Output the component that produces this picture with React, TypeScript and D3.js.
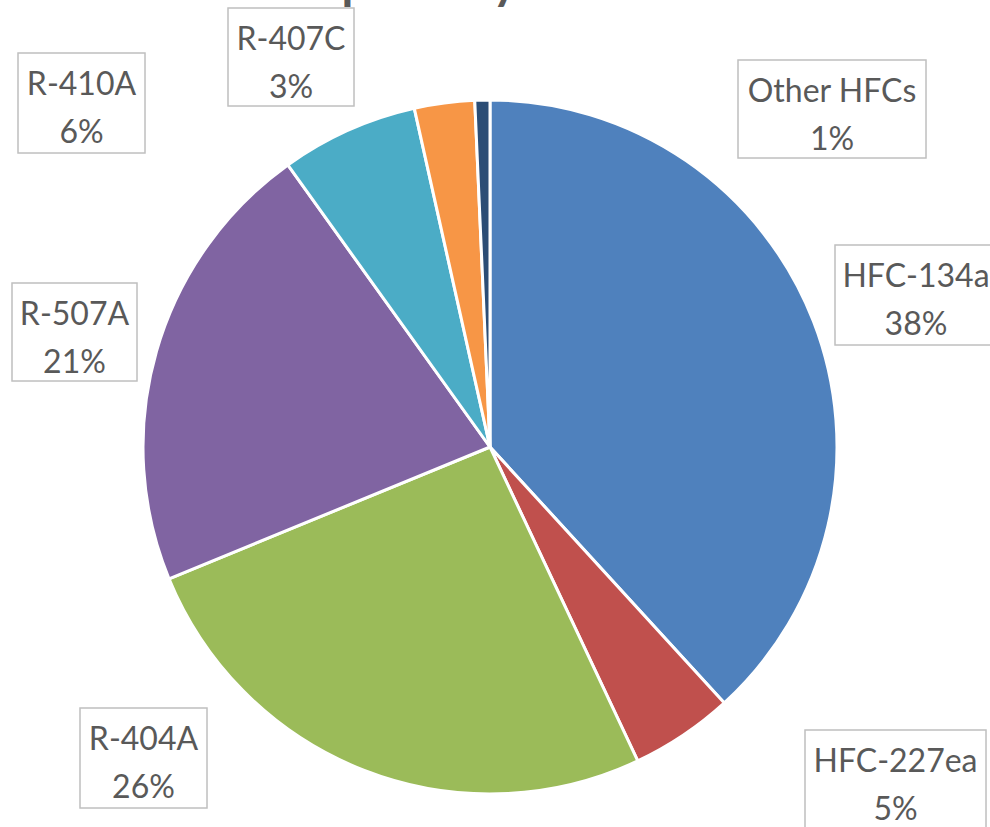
import React from "react";
import * as d3 from "d3";

const categories = ["HFC-134a", "HFC-227ea", "R-404A", "R-507A", "R-410A", "R-407C", "Other HFCs"];
const values = [38.2, 4.8, 25.8, 21.3, 6.4, 2.8, 0.7];
const colors = ["#4F81BD", "#C0504D", "#9BBB59", "#8064A2", "#4BACC6", "#F79646", "#2C4D75"];
const titleText = "HFC Consumption by Chemical";

// label box layout (x, y, w, h)
const labelBoxes = [
  [835, 245, 162, 100],
  [805, 730, 181, 100],
  [80, 708, 127, 100],
  [12, 283, 125, 98],
  [18, 53, 127, 100],
  [228, 8, 126, 98],
  [738, 60, 188, 98],
];

export default function App() {
  const W = 990, H = 827;
  const cx = 490, cy = 447, r = 347;
  const total = d3.sum(values);
  const pie = d3.pie<number>().sort(null).value((d) => d)(values);
  const arc = d3.arc<d3.PieArcDatum<number>>().innerRadius(0).outerRadius(r);
  const font = "Lato, 'Open Sans', sans-serif";
  return (
    <svg width={W} height={H} style={{ position: "absolute", left: 0, top: 0, background: "#fff" }}>
      <text x={60} y={-1} fontFamily={font} fontWeight={700} fontSize={48} fill="#595959">{titleText}</text>
      <g transform={`translate(${cx},${cy})`}>
        {pie.map((p, i) => (
          <path key={i} d={arc(p) || ""} fill={colors[i]} stroke="#fff" strokeWidth={3} strokeLinejoin="round" />
        ))}
      </g>
      {categories.map((c, i) => {
        const [x, y, w, h] = labelBoxes[i];
        const pct = Math.round((values[i] / total) * 100) + "%";
        return (
          <g key={c}>
            <rect x={x} y={y} width={w} height={h} fill="#fff" stroke="#BFBFBF" strokeWidth={1.5} />
            <text x={x + w / 2} y={y + 42} textAnchor="middle" fontFamily={font} fontSize={32} fill="#595959">{c}</text>
            <text x={x + w / 2} y={y + 90} textAnchor="middle" fontFamily={font} fontSize={32} fill="#595959">{pct}</text>
          </g>
        );
      })}
    </svg>
  );
}
